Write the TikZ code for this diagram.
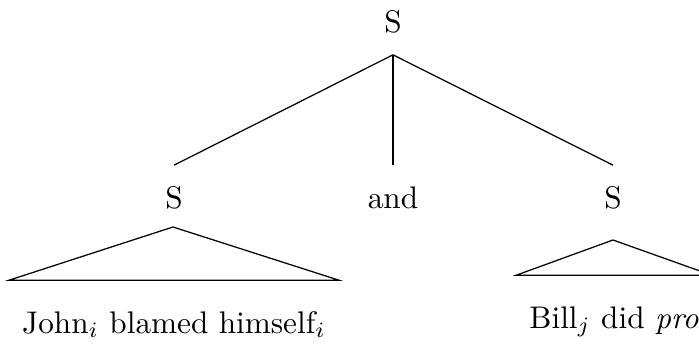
\documentclass[tikz,border=0pt]{standalone}
\begin{document}
\begin{tikzpicture}[x=0.32pt, y=-0.32pt,
  cat/.style={inner sep=0pt, text height=7pt, text depth=0pt, outer ysep=7pt},
  yield/.style={anchor=base, inner xsep=4pt, inner ysep=9.7pt, text height=7pt, text depth=2pt},
  ]
 \useasboundingbox (0,0) rectangle (699,344);
 \node [cat] (top) at (393,22) {S};
 \node [cat] (ls) at (174,198) {S};
 \node [cat] (conj) at (393,198) {and};
 \node [cat] (rs) at (613,198) {S};
 \draw (top.south) -- (ls.north);
 \draw (top.south) -- (conj.north);
 \draw (top.south) -- (rs.north);
 % triangles over the yields
 \node [yield] (ly) at (174,333) {John$_i$ blamed himself$_i$};
 \node [yield] (ry) at (614,328) {Bill$_j$ did \textit{pro}};
 \coordinate (lapex) at (173,227);
 \coordinate (rapex) at (613,240);
 \draw (lapex) -- (ly.north west) -- (ly.north east) -- cycle;
 \draw (rapex) -- (ry.north west) -- (ry.north east) -- cycle;
\end{tikzpicture}
\end{document}
